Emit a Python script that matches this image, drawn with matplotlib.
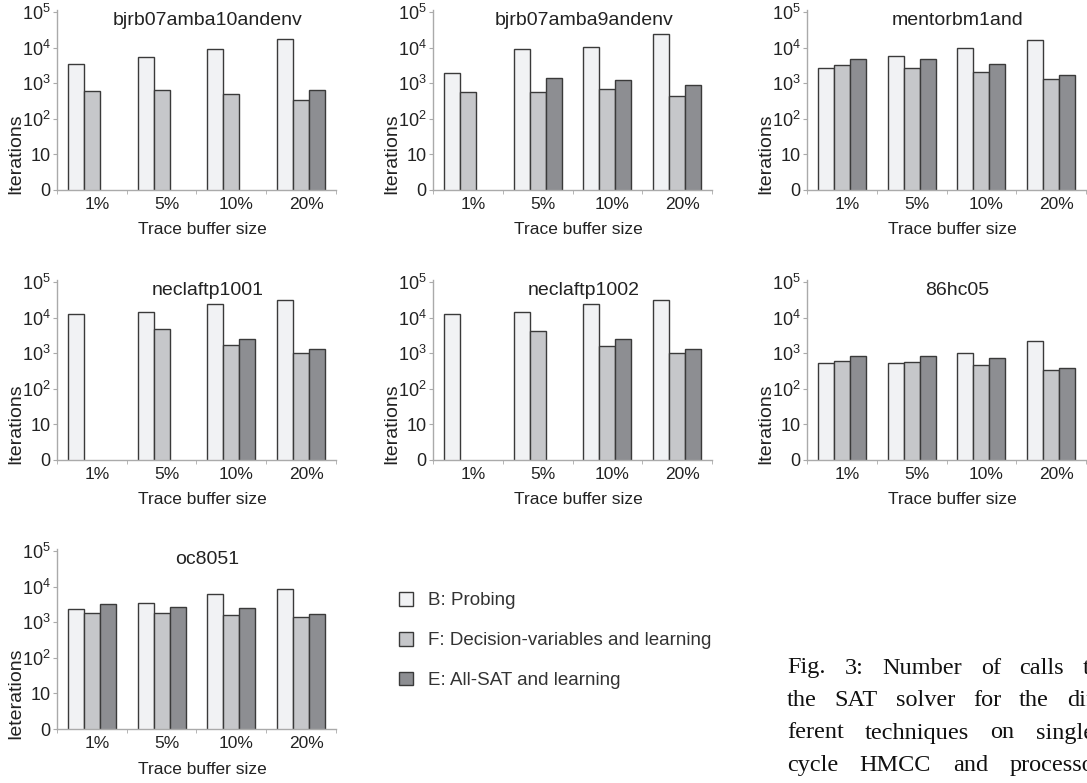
'''Number of SAT calls per technique and trace buffer size.'''

import numpy as np
import matplotlib.pyplot as plt

plt.rcParams['font.family'] = 'Liberation Sans'
plt.rcParams['mathtext.fontset'] = 'custom'
plt.rcParams['mathtext.rm'] = 'Liberation Sans'

nan = np.nan

# Categories and benchmark names.
sizes = ['1%', '5%', '10%', '20%']
benchmarks = ['bjrb07amba10andenv', 'bjrb07amba9andenv', 'mentorbm1and',
              'neclaftp1001', 'neclaftp1002', '86hc05', 'oc8051']
ylabels = ['Iterations'] * 6 + ['Ieterations']
series = ['B: Probing', 'F: Decision-variables and learning',
          'E: All-SAT and learning']

# Iterations (nan = no bar).
probing = [
    [3500, 5500, 9000, 18000],
    [1950, 9200, 10700, 24000],
    [2750, 5700, 10000, 17000],
    [12400, 14700, 23700, 30600],
    [12400, 14700, 23700, 30600],
    [525, 525, 1040, 2230],
    [2300, 3400, 6300, 8400],
]
decision = [
    [600, 630, 510, 330],
    [575, 575, 670, 445],
    [3200, 2700, 2080, 1350],
    [nan, 4700, 1670, 1040],
    [nan, 4350, 1570, 1040],
    [610, 570, 460, 340],
    [1800, 1870, 1570, 1420],
]
allsat = [
    [nan, nan, nan, 630],
    [nan, 1370, 1260, 890],
    [4700, 4900, 3400, 1750],
    [nan, nan, 2570, 1300],
    [nan, nan, 2570, 1320],
    [825, 840, 725, 380],
    [3330, 2750, 2480, 1680],
]

colors = ['#f1f2f4', '#c6c7ca', '#8d8e92']
ytick_vals = [1, 10, 100, 1000, 10000, 100000]
ytick_labels = ['0', '10'] + [r'$\mathregular{10^%d}$' % k for k in range(2, 6)]

W, H = 1087, 783
fig = plt.figure(figsize=(W / 100, H / 100), dpi=100)

# Panel corners in pixels (left, top).
corners = [(57, 10), (433, 10), (807, 10),
           (57, 280), (433, 280), (807, 280),
           (57, 549)]
aw, ah = 279, 180

bar_w = 0.23
x = np.arange(len(sizes)) + 0.5
handles = None
for i, name in enumerate(benchmarks):
    l, t = corners[i]
    ax = fig.add_axes([l / W, 1 - (t + ah) / H, aw / W, ah / H])
    bars = []
    for j, vals in enumerate([probing[i], decision[i], allsat[i]]):
        b = ax.bar(x + (j - 1) * bar_w, vals, bar_w, bottom=0,
                   color=colors[j], edgecolor='#3a3a3a', linewidth=1,
                   label=series[j])
        bars.append(b)
    if handles is None:
        handles = bars
    ax.set_yscale('log')
    ax.set_ylim(1, 1.15e5)
    ax.set_xlim(0, 4)
    ax.set_yticks(ytick_vals)
    ax.set_yticklabels(ytick_labels)
    ax.minorticks_off()
    ax.set_xticks(x + 0.07)
    ax.set_xticklabels(sizes)
    ax.set_xticks(np.arange(5), minor=True)
    ax.tick_params(axis='x', which='major', length=0, pad=5, labelsize=12.5,
                   colors='#222222')
    ax.tick_params(axis='x', which='minor', length=3, color='#aaaaaa')
    ax.tick_params(axis='y', length=3, pad=1.5, labelsize=13,
                   color='#aaaaaa', labelcolor='#222222')
    for s in ['top', 'right']:
        ax.spines[s].set_visible(False)
    for s in ['left', 'bottom']:
        ax.spines[s].set_color('#aaaaaa')
        ax.spines[s].set_linewidth(1)
    ax.text(0.54, 0.94, name, transform=ax.transAxes, ha='center',
            va='center', fontsize=14, color='#222222')
    ax.text(0.52, -40 / ah, 'Trace buffer size', transform=ax.transAxes,
            ha='center', va='center', fontsize=12.5, color='#222222')
    ax.text(-0.147, 0.2, ylabels[i], transform=ax.transAxes, rotation=90,
            ha='center', va='center', fontsize=14, color='#222222')

# Legend in the empty slot.
fig.legend(handles, series, loc='upper left',
           bbox_to_anchor=(382 / W, 1 - 575 / H), frameon=False,
           fontsize=13.5, handlelength=0.75, handleheight=0.75,
           handletextpad=0.8, labelspacing=1.2, labelcolor='#333333')

# Justified caption, cut by the right edge.
caption = [['Fig.', '3:', 'Number', 'of', 'calls', 'to'],
           ['the', 'SAT', 'solver', 'for', 'the', 'dif-'],
           ['ferent', 'techniques', 'on', 'single-'],
           ['cycle', 'HMCC', 'and', 'processor']]
renderer = fig.canvas.get_renderer()
x0, line_w = 787, 315
for k, words in enumerate(caption):
    y = 1 - (668 + 32.5 * k) / H
    texts = [fig.text(0, y, w, family='Liberation Serif', fontsize=17.5,
                      va='center', ha='left', color='#111111') for w in words]
    widths = [tx.get_window_extent(renderer).width for tx in texts]
    gap = (line_w - sum(widths)) / (len(words) - 1)
    pos = x0
    for tx, wd in zip(texts, widths):
        tx.set_x(pos / W)
        pos += wd + gap

fig.savefig('out.png', dpi=100)
